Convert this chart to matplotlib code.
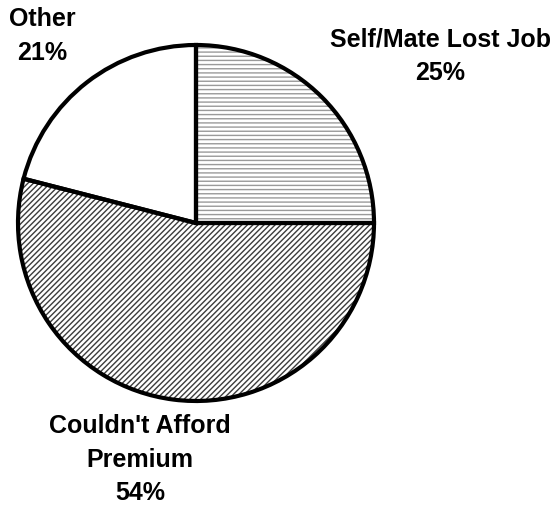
import matplotlib
matplotlib.use("Agg")
import matplotlib.pyplot as plt

categories = ["Self/Mate Lost Job", "Couldn't Afford\nPremium", "Other"]
shares = [25, 54, 21]
hatches = ["----", "//////", ""]
hatch_colors = ["#9a9a9a", "#3c3c3c", "white"]

plt.rcParams["font.family"] = ["Liberation Sans", "DejaVu Sans"]
plt.rcParams["hatch.linewidth"] = 1.0

fig = plt.figure(figsize=(5.6, 5.06), dpi=100)
ax = fig.add_axes([0, 0, 1, 1])

center = (196, 282)
radius = 178

# hatched fill layer
fill_wedges, _ = ax.pie(shares, startangle=90, counterclock=False,
                        center=center, radius=radius, frame=True,
                        colors=["white"] * 3)
for w, h, c in zip(fill_wedges, hatches, hatch_colors):
    w.set_hatch(h)
    w.set_edgecolor(c)
    w.set_linewidth(0)

# outline layer
outline, _ = ax.pie(shares, startangle=90, counterclock=False,
                    center=center, radius=radius, frame=True,
                    wedgeprops=dict(fill=False, edgecolor="black", linewidth=3))
ax.set_xlim(0, 560)
ax.set_ylim(0, 506)
ax.set_aspect("equal")
ax.axis("off")

label_pos = [(440, 450), (140, 46), (42, 470)]
for (x, y), name, v in zip(label_pos, categories, shares):
    ax.text(x, y, f"{name}\n{v}%", ha="center", va="center",
            fontsize=18, fontweight="bold", linespacing=1.5)

fig.savefig("out.png", dpi=100)
